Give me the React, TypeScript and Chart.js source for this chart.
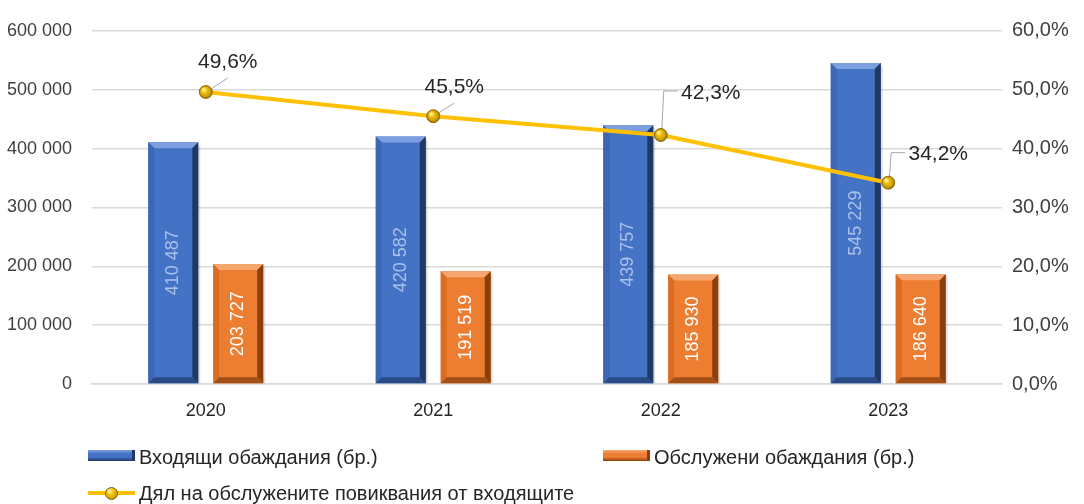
import React, { useEffect, useRef } from "react";
import { Chart, registerables } from "chart.js";

Chart.register(...registerables);

// ---------- DATA ----------
const categories = ["2020", "2021", "2022", "2023"];
const incomingCalls = [410487, 420582, 439757, 545229];
const servedCalls = [203727, 191519, 185930, 186640];
const servedSharePct = [49.6, 45.5, 42.3, 34.2];
const seriesNames = [
  "Входящи обаждания (бр.)",
  "Обслужени обаждания (бр.)",
  "Дял на обслужените повиквания от входящите",
];

// ---------- STYLE ----------
const FONT = "'Liberation Sans', Arial, sans-serif";
const TEXT = "#404040";
const BLUE = "#4472C4";
const ORANGE = "#ED7D31";
const GOLD = "#FFC000";

// label placement for the percentage labels (style, relative to point)
const pctLabelPlacement = [
  { dx: 22, dy: -30, leader: "diag" },
  { dx: 21, dy: -29, leader: "diag" },
  { dx: 50, dy: -42, leader: "elbow" },
  { dx: 50, dy: -28, leader: "elbow" },
];

const bevelColors: Record<number, { top: string; left: string; right: string; bottom: string; text: string }> = {
  0: { top: "#7d9fe0", left: "#3d67b5", right: "#1f3864", bottom: "#2a4a86", text: "#a9c1ea" },
  1: { top: "#f5a76f", left: "#db6d22", right: "#8a3f0c", bottom: "#a34f15", text: "#ffffff" },
};

const fmtNum = (n: number) => String(Math.round(n)).replace(/\B(?=(\d{3})+(?!\d))/g, " ");
const fmtPct = (v: number) => v.toFixed(1).replace(".", ",") + "%";

function drawSphere(ctx: CanvasRenderingContext2D, x: number, y: number, r: number) {
  const g = ctx.createRadialGradient(x - r * 0.35, y - r * 0.4, r * 0.1, x, y, r);
  g.addColorStop(0, "#fff4b0");
  g.addColorStop(0.35, "#f0c20a");
  g.addColorStop(0.8, "#c99a00");
  g.addColorStop(1, "#8c6a00");
  ctx.beginPath();
  ctx.arc(x, y, r, 0, Math.PI * 2);
  ctx.fillStyle = g;
  ctx.fill();
  ctx.lineWidth = 0.8;
  ctx.strokeStyle = "#7a5c00";
  ctx.stroke();
}

const decorPlugin = {
  id: "decor",
  afterDatasetDraw(chart: any, args: any) {
    const ctx: CanvasRenderingContext2D = chart.ctx;
    const idx = args.index;
    const meta = args.meta;
    if (meta.type === "bar") {
      const c = bevelColors[idx];
      const values = chart.data.datasets[idx].data as number[];
      meta.data.forEach((el: any, i: number) => {
        const { x, y, base, width } = el.getProps(["x", "y", "base", "width"], true);
        const l = x - width / 2;
        const r = x + width / 2;
        const t = y;
        const b = base;
        const bv = 6;
        ctx.save();
        // shadow on right
        ctx.fillStyle = "rgba(0,0,0,0.12)";
        ctx.fillRect(r, t + 3, 2, b - t - 3);
        // top
        ctx.beginPath();
        ctx.moveTo(l, t); ctx.lineTo(r, t); ctx.lineTo(r - bv, t + bv); ctx.lineTo(l + bv, t + bv); ctx.closePath();
        ctx.fillStyle = c.top; ctx.fill();
        // left
        ctx.beginPath();
        ctx.moveTo(l, t); ctx.lineTo(l + bv, t + bv); ctx.lineTo(l + bv, b - bv); ctx.lineTo(l, b); ctx.closePath();
        ctx.fillStyle = c.left; ctx.fill();
        // right
        ctx.beginPath();
        ctx.moveTo(r, t); ctx.lineTo(r, b); ctx.lineTo(r - bv, b - bv); ctx.lineTo(r - bv, t + bv); ctx.closePath();
        ctx.fillStyle = c.right; ctx.fill();
        // bottom
        ctx.beginPath();
        ctx.moveTo(l, b); ctx.lineTo(l + bv, b - bv); ctx.lineTo(r - bv, b - bv); ctx.lineTo(r, b); ctx.closePath();
        ctx.fillStyle = c.bottom; ctx.fill();
        // value label
        ctx.translate(x, (t + b) / 2);
        ctx.rotate(-Math.PI / 2);
        ctx.font = `18px ${FONT}`;
        ctx.fillStyle = c.text;
        ctx.textAlign = "center";
        ctx.textBaseline = "middle";
        ctx.fillText(fmtNum(values[i]), 0, 0);
        ctx.restore();
      });
    } else if (meta.type === "line") {
      const values = chart.data.datasets[idx].data as number[];
      ctx.save();
      meta.data.forEach((el: any, i: number) => {
        const { x, y } = el.getProps(["x", "y"], true);
        const p = pctLabelPlacement[i];
        const lx = x + p.dx;
        const ly = y + p.dy;
        ctx.strokeStyle = "#a6a6a6";
        ctx.lineWidth = 1;
        ctx.beginPath();
        if (p.leader === "diag") {
          ctx.moveTo(x + 5, y - 3);
          ctx.lineTo(lx, ly + 16);
        } else {
          ctx.moveTo(x + 1, y - 4);
          ctx.lineTo(x + 3, ly - 2);
          ctx.lineTo(lx - 33, ly - 2);
        }
        ctx.stroke();
        drawSphere(ctx, x, y, 6.5);
        ctx.font = `21px ${FONT}`;
        ctx.fillStyle = "#262626";
        ctx.textAlign = "center";
        ctx.textBaseline = "middle";
        ctx.fillText(fmtPct(values[i]), lx, ly);
      });
      ctx.restore();
    }
  },
};

const bevelIcon = (base: string, light: string, dark: string): React.CSSProperties => ({
  position: "absolute",
  width: 47,
  height: 11,
  background: `linear-gradient(to bottom, ${light} 0%, ${base} 35%, ${base} 65%, ${dark} 100%)`,
  borderRight: `3px solid ${dark}`,
  boxSizing: "border-box",
});

export default function App() {
  const ref = useRef<HTMLCanvasElement>(null);

  useEffect(() => {
    if (!ref.current) return;
    const chart = new Chart(ref.current, {
      type: "bar",
      data: {
        labels: categories,
        datasets: [
          {
            type: "bar",
            label: seriesNames[0],
            data: incomingCalls,
            backgroundColor: BLUE,
            yAxisID: "y",
            order: 1,
            barPercentage: 0.77,
            categoryPercentage: 0.571,
          },
          {
            type: "bar",
            label: seriesNames[1],
            data: servedCalls,
            backgroundColor: ORANGE,
            yAxisID: "y",
            order: 1,
            barPercentage: 0.77,
            categoryPercentage: 0.571,
          },
          {
            type: "line",
            label: seriesNames[2],
            data: servedSharePct,
            borderColor: GOLD,
            borderWidth: 4,
            pointRadius: 0,
            pointHoverRadius: 0,
            yAxisID: "y1",
            order: 0,
            tension: 0,
          } as any,
        ],
      },
      options: {
        animation: false,
        responsive: false,
        maintainAspectRatio: false,
        layout: { padding: { top: 25, left: 0, right: 0, bottom: 0 } },
        plugins: { legend: { display: false }, tooltip: { enabled: false } },
        events: [],
        scales: {
          x: {
            grid: { display: false },
            border: { color: "#d9d9d9", width: 1.5 },
            ticks: { font: { family: FONT, size: 18 }, color: "#262626", padding: 8 },
            afterFit: (s: any) => { s.height = 120; },
          },
          y: {
            position: "left",
            min: 0,
            max: 600000,
            ticks: {
              stepSize: 100000,
              font: { family: FONT, size: 18 },
              color: TEXT,
              padding: 20,
              callback: (v: any) => fmtNum(Number(v)),
            },
            grid: { color: "#d9d9d9", lineWidth: 1.5, drawTicks: false },
            border: { display: false },
            afterFit: (s: any) => { s.width = 92; },
          },
          y1: {
            position: "right",
            min: 0,
            max: 60,
            ticks: {
              stepSize: 10,
              font: { family: FONT, size: 20 },
              color: TEXT,
              padding: 10,
              callback: (v: any) => fmtPct(Number(v)),
            },
            grid: { drawOnChartArea: false, drawTicks: false },
            border: { display: false },
            afterFit: (s: any) => { s.width = 82; },
          },
        },
      },
      plugins: [decorPlugin],
    });
    return () => chart.destroy();
  }, []);

  const legendText: React.CSSProperties = {
    position: "absolute",
    fontFamily: FONT,
    fontSize: 20,
    color: "#262626",
    lineHeight: "24px",
    whiteSpace: "nowrap",
  };

  return (
    <div style={{ position: "absolute", left: 0, top: 0, width: 1084, height: 504, background: "#fff", overflow: "hidden" }}>
      <canvas ref={ref} width={1084} height={504} style={{ position: "absolute", left: 0, top: 0, width: 1084, height: 504 }} />
      <div style={{ ...bevelIcon(BLUE, "#7d9fe0", "#1f3864"), left: 88, top: 450 }} />
      <div style={{ ...legendText, left: 139, top: 445 }}>{seriesNames[0]}</div>
      <div style={{ ...bevelIcon(ORANGE, "#f5a76f", "#8a3f0c"), left: 603, top: 450 }} />
      <div style={{ ...legendText, left: 654, top: 445 }}>{seriesNames[1]}</div>
      <div style={{ position: "absolute", left: 88, top: 491, width: 47, height: 4, background: GOLD }} />
      <div
        style={{
          position: "absolute",
          left: 104.5,
          top: 486.5,
          width: 13,
          height: 13,
          borderRadius: "50%",
          background: "radial-gradient(circle at 35% 30%, #fff4b0 0%, #f0c20a 35%, #c99a00 80%, #8c6a00 100%)",
          boxSizing: "border-box",
          border: "0.8px solid #7a5c00",
        }}
      />
      <div style={{ ...legendText, left: 139, top: 481 }}>{seriesNames[2]}</div>
    </div>
  );
}
